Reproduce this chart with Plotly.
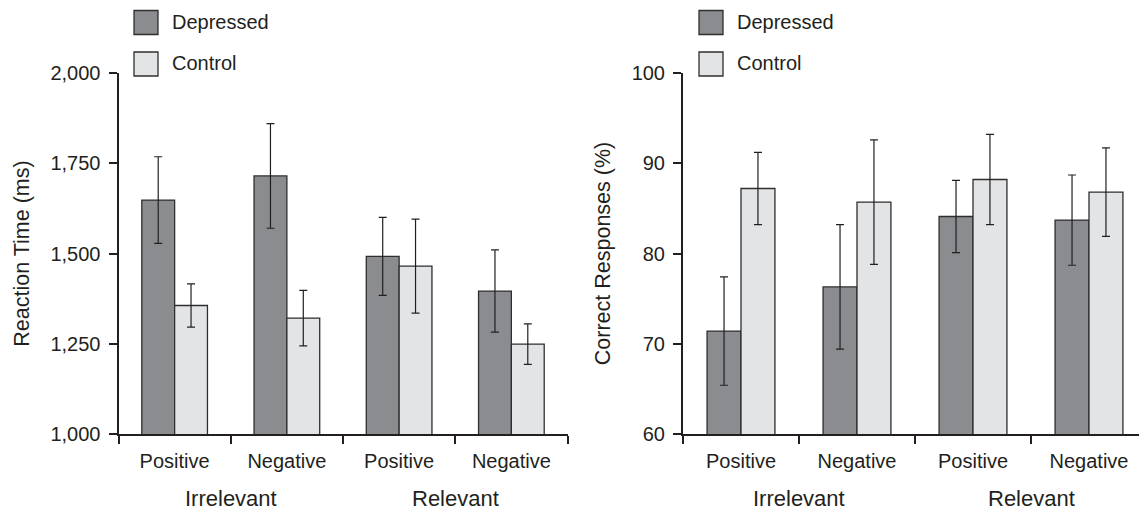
import plotly.graph_objects as go

# ---- data ----
conditions = ["Positive", "Negative", "Positive", "Negative"]
groups = ["Irrelevant", "Relevant"]
series_names = ["Depressed", "Control"]

rt_depressed = [1648, 1715, 1492, 1396]
rt_depressed_err = [120, 145, 108, 114]
rt_control = [1356, 1321, 1465, 1249]
rt_control_err = [60, 77, 130, 56]

acc_depressed = [71.4, 76.3, 84.1, 83.7]
acc_depressed_err = [6.0, 6.9, 4.0, 5.0]
acc_control = [87.2, 85.7, 88.2, 86.8]
acc_control_err = [4.0, 6.9, 5.0, 4.9]

rt_ticks = [1000, 1250, 1500, 1750, 2000]
acc_ticks = [60, 70, 80, 90, 100]

# ---- style ----
FONT = "Liberation Sans, Arial, Helvetica, sans-serif"
INK = "#231f20"
DEP_FILL = "#8b8c90"
CTL_FILL = "#e3e4e6"
OUTLINE = "#2e2e2e"
fills = [DEP_FILL, CTL_FILL]
PAGE_W, PAGE_H = 1147, 514
OFF = 8                      # default page body margin
W, H = PAGE_W - OFF, PAGE_H - OFF
TICK_SIZE = 20
TITLE_SIZE = 21.5
GROUP_SIZE = 22


def px(xp):
    """page pixel x -> paper fraction"""
    return (xp - OFF) / W


def py(yp):
    """page pixel y (from top) -> paper fraction"""
    return (H - (yp - OFF)) / H


xpos = list(range(len(conditions)))

fig = go.Figure()


def add_bars(xa, ya, dep, dep_err, ctl, ctl_err, legend):
    for name, vals, errs, fill in [
        (series_names[0], dep, dep_err, fills[0]),
        (series_names[1], ctl, ctl_err, fills[1]),
    ]:
        fig.add_trace(go.Bar(
            x=xpos, y=vals, name=name, xaxis=xa, yaxis=ya,
            marker=dict(color=fill, line=dict(color=OUTLINE, width=1.3)),
            error_y=dict(type="data", array=errs, visible=True,
                         color=INK, thickness=1.2, width=4),
            showlegend=False, legendgroup=legend + name,
        ))
        # legend entry (its swatch is drawn larger as a paper shape below)
        fig.add_trace(go.Scatter(
            x=[None], y=[None], name=name, xaxis=xa, yaxis=ya,
            mode="markers",
            marker=dict(symbol="square", size=16, color="rgba(0,0,0,0)",
                        line=dict(color="rgba(0,0,0,0)", width=0)),
            legend=legend, legendgroup=legend + name, showlegend=True,
        ))


add_bars("x", "y", rt_depressed, rt_depressed_err, rt_control, rt_control_err, "legend")
add_bars("x2", "y2", acc_depressed, acc_depressed_err, acc_control, acc_control_err, "legend2")


def xaxis_cfg(domain, anchor):
    return dict(
        domain=domain, anchor=anchor, range=[-0.5, 3.5], automargin=False,
        tickvals=xpos, ticktext=conditions, ticks="",
        tickfont=dict(family=FONT, size=TICK_SIZE, color=INK),
        ticklabelstandoff=8,
        showline=True, linecolor=INK, linewidth=2,
        showgrid=False, zeroline=False, fixedrange=True,
        minor=dict(tickvals=[-0.5, 0.5, 1.5, 2.5, 3.5], ticks="outside",
                   ticklen=8, tickwidth=2, tickcolor=INK, showgrid=False),
    )


def yaxis_cfg(domain, anchor, rng, ticks, title, fmt):
    return dict(
        domain=domain, anchor=anchor, range=rng, automargin=False,
        tickvals=ticks, tickformat=fmt, ticks="outside", ticklen=8,
        tickwidth=2, tickcolor=INK,
        tickfont=dict(family=FONT, size=TICK_SIZE, color=INK),
        ticklabelstandoff=4,
        showline=True, linecolor=INK, linewidth=2,
        showgrid=False, zeroline=False, fixedrange=True,
        title=dict(text=title, font=dict(family=FONT, size=TITLE_SIZE, color=INK),
                   standoff=15),
    )


ydom = [py(434), py(73)]
legend_common = dict(
    xanchor="left", yanchor="top", traceorder="grouped", tracegroupgap=12,
    itemwidth=42, font=dict(family=FONT, size=TICK_SIZE, color=INK),
    bgcolor="rgba(0,0,0,0)", itemclick=False, itemdoubleclick=False,
)
fig.update_layout(
    width=W, height=H,
    margin=dict(l=0, r=0, t=0, b=0, autoexpand=False),
    paper_bgcolor="white", plot_bgcolor="white",
    barmode="group", bargap=0.415, bargroupgap=0,
    font=dict(family=FONT, size=TICK_SIZE, color=INK),
    xaxis=xaxis_cfg([px(118.5), px(567.5)], "y"),
    yaxis=yaxis_cfg(ydom, "x", [1000, 2000], rt_ticks, "Reaction Time (ms)", ","),
    xaxis2=xaxis_cfg([px(683), 1.0], "y2"),
    yaxis2=yaxis_cfg(ydom, "x2", [60, 100], acc_ticks, "Correct Responses (%)", "d"),
    legend=dict(x=px(120), y=py(2), **legend_common),
    legend2=dict(x=px(685), y=py(2), **legend_common),
)

# legend swatches (24 px squares, as in the reference)
for x0 in [134, 699]:
    for k, y0 in enumerate([10.5, 52]):
        fig.add_shape(
            type="rect", xref="paper", yref="paper",
            x0=px(x0), x1=px(x0 + 24), y0=py(y0 + 24), y1=py(y0),
            fillcolor=fills[k], line=dict(color=OUTLINE, width=1.3),
            layer="above",
        )

# group labels under the condition labels
for xa in ["x", "x2"]:
    for i, g in enumerate(groups):
        fig.add_annotation(
            x=0.5 + 2 * i, xref=xa, y=py(498), yref="paper",
            text=g, showarrow=False, xanchor="center", yanchor="middle",
            font=dict(family=FONT, size=GROUP_SIZE, color=INK),
        )

fig.write_html("out.html")
